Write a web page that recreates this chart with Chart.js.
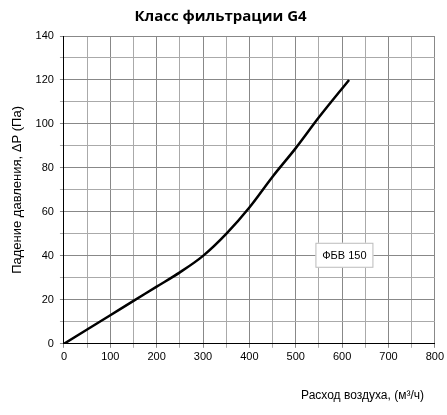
<!DOCTYPE html>
<html><head><meta charset="utf-8">
<script src="https://cdn.jsdelivr.net/npm/chart.js@4"></script>
<style>html,body{margin:0;background:#fff}#w{width:447px;height:415px}</style>
</head><body><div id="w"><canvas id="c"></canvas></div>
<script>
const flow=[0,50,100,150,200,250,300,350,400,450,500,550,615];
const dp=[0,6.5,13,19.5,26,32.5,40,50,62,76,89,103,120];
const seriesLabel='ФБВ 150';
const xTicks=[0,100,200,300,400,500,600,700,800];
const yTicks=[0,20,40,60,80,100,120,140];
const boxPlugin={id:'box',afterDraw(ch){const c=ch.ctx,x=ch.scales.x,y=ch.scales.y;
 const x0=x.getPixelForValue(605),y0=y.getPixelForValue(40.5);
 c.save();c.fillStyle='#fff';c.strokeStyle='#bbb';c.lineWidth=1;
 c.fillRect(x0-29,y0-12,58,25);c.strokeRect(x0-28.5,y0-11.5,57,24);
 c.fillStyle='#000';c.font='11px "Liberation Sans"';c.textAlign='center';c.textBaseline='middle';
 c.fillText(seriesLabel,x0,y0+1);
 c.font='12px "Liberation Sans"';c.textAlign='right';c.textBaseline='alphabetic';
 c.fillText('Расход воздуха, (м³/ч)',424,399);c.restore();}};
new Chart(document.getElementById('c'),{type:'line',
data:{datasets:[{label:seriesLabel,data:flow.map((v,i)=>({x:v,y:dp[i]})),borderColor:'#000',borderWidth:2.5,pointRadius:0,tension:0.4,cubicInterpolationMode:'monotone'}]},
options:{responsive:true,maintainAspectRatio:false,animation:false,
layout:{padding:{left:6,right:12,top:6,bottom:48}},
plugins:{legend:{display:false},tooltip:{enabled:false},
 title:{display:true,text:'Класс фильтрации G4',font:{family:'Open Sans',size:15,weight:'bold'},color:'#000',padding:{top:2,bottom:10}}},
scales:{
 x:{type:'linear',min:0,max:800,ticks:{stepSize:50,autoSkip:false,maxRotation:0,minRotation:0,color:'#000',font:{family:'Liberation Sans',size:11},callback:v=>xTicks.includes(v)?v:''},
  grid:{color:c=>c.tick.value%100===0?'#888':'#aaa',tickLength:4},border:{color:'#000'}},
 y:{min:0,max:140,ticks:{stepSize:10,autoSkip:false,color:'#000',padding:6,font:{family:'Liberation Sans',size:11},callback:v=>yTicks.includes(v)?v:''},
  grid:{color:c=>c.tick.value%20===0?'#888':'#aaa',tickLength:4},border:{color:'#000'},
  title:{display:true,text:'Падение давления, ΔР (Па)',color:'#000',font:{family:'Liberation Sans',size:13}}}}},
plugins:[boxPlugin]});
</script></body></html>
